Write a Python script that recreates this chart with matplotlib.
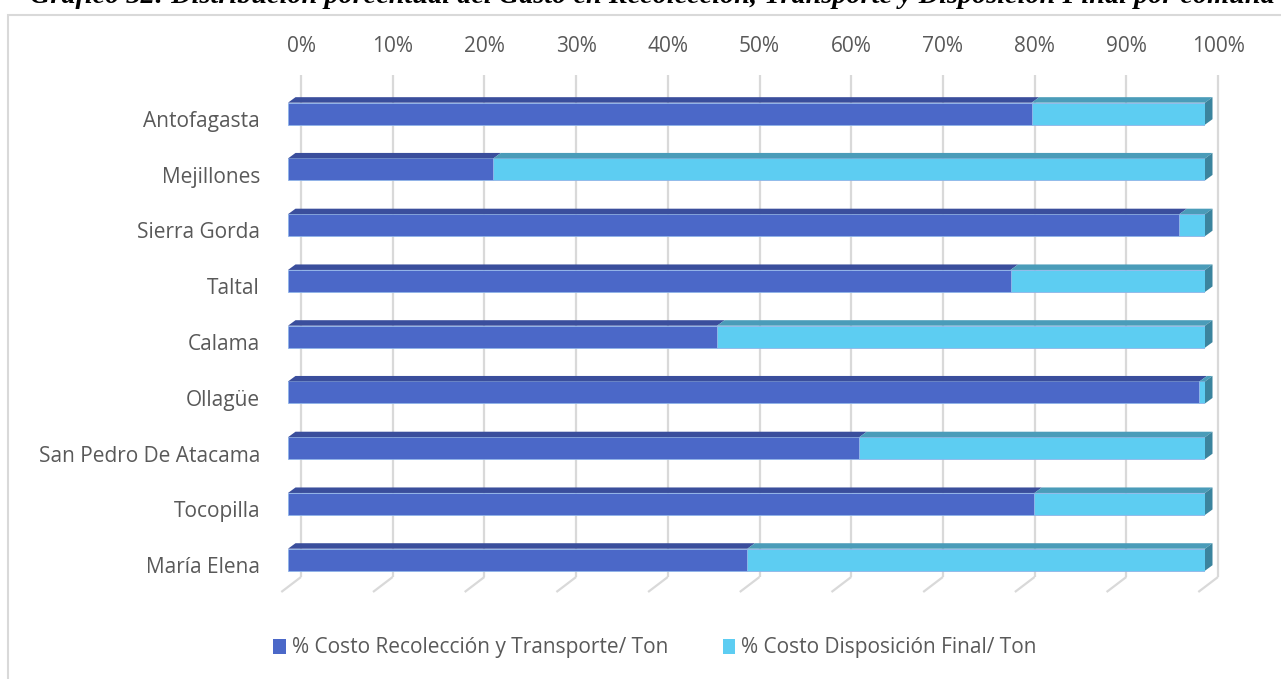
import numpy as np
import matplotlib
matplotlib.use('Agg')
import matplotlib.pyplot as plt
from matplotlib.patches import Polygon, Rectangle, Patch

# data (share of cost per ton, fraction of 1)
comunas = ['Antofagasta', 'Mejillones', 'Sierra Gorda', 'Taltal', 'Calama',
           'Ollagüe', 'San Pedro De Atacama', 'Tocopilla', 'María Elena']
recoleccion = [0.811, 0.224, 0.972, 0.788, 0.468, 0.994, 0.623, 0.814, 0.501]
disposicion = [1 - v for v in recoleccion]
series_names = ['% Costo Recolección y Transporte/ Ton',
                '% Costo Disposición Final/ Ton']
ticks = np.arange(0, 1.01, 0.1)
tick_labels = [f'{int(round(t * 100))}%' for t in ticks]

# styling
W, H = 1281, 679
front_cols = ['#4B68C8', '#5DCDF2']
top_cols = ['#3A4E9C', '#4A9CB9']
side_cols = ['#33458A', '#3B849E']
grid_col = '#D9D9D9'
text_col = '#595959'
fs = 15
plt.rcParams['font.family'] = ['Open Sans', 'DejaVu Sans']

fig = plt.figure(figsize=(W / 100, H / 100), dpi=100)

# outer chart frame
fig.patches.append(Rectangle((8 / W, -0.1), 1.2, (H - 15) / H + 0.1,
                             transform=fig.transFigure, fill=False,
                             edgecolor=grid_col, linewidth=1.5))

# cut-off caption above the chart
fig.text(30 / W, 1 - 3 / H,
         'Gráfico 32: Distribución porcentual del Gasto en Recolección, '
         'Transporte y Disposición Final por comuna',
         family='Liberation Serif', fontweight='bold', fontstyle='italic',
         fontsize=20.3, va='baseline', ha='left', color='#000000')

# front plane of the bars: 0% at x=288px, 100% at x=1205px
ax_top, ax_bot = 85.8, 587.6
ax = fig.add_axes([288 / W, 1 - ax_bot / H, 917 / W, (ax_bot - ax_top) / H])
ax.set_xlim(0, 1)
ax.set_ylim(len(comunas) - 0.5, -0.5)
ax.set_axis_off()

px = 1 / 917                       # data units per pixel, x
py = (len(comunas)) / (ax_bot - ax_top)  # data units per pixel, y
h = 22 * py                        # bar front height
ddx, ddy = 7.5 * px, -5.5 * py     # bar depth

# back wall gridlines + floor
bx = 13 * px
g_top = -0.5 - (ax_top - 75) * py
g_bot = len(comunas) - 0.5 - (ax_bot - 577) * py
for t in ticks:
    x = t + bx
    ax.plot([x, x], [g_top, g_bot], color=grid_col, lw=1.6, zorder=1,
            clip_on=False, solid_capstyle='butt')
    ax.plot([x, x - 19.7 * px], [g_bot, g_bot + 15 * py], color=grid_col,
            lw=1.6, zorder=1, clip_on=False, solid_capstyle='butt')

for t, lab in zip(ticks, tick_labels):
    ax.text(t + bx, -0.5 - (ax_top - 47) * py, lab, ha='center', va='center',
            fontsize=fs, color=text_col)

# bars
y = np.arange(len(comunas))
lefts = np.zeros(len(comunas))
for k, vals in enumerate([recoleccion, disposicion]):
    vals = np.array(vals)
    ax.barh(y, vals, left=lefts, height=h, color=front_cols[k],
            edgecolor='#8FB4E8', linewidth=0.6, zorder=3)
    for i in range(len(comunas)):
        l, w = lefts[i], vals[i]
        yt = y[i] - h / 2
        ax.add_patch(Polygon([(l, yt), (l + w, yt), (l + w + ddx, yt + ddy),
                              (l + ddx, yt + ddy)], closed=True,
                             facecolor=top_cols[k], edgecolor='none',
                             zorder=3, clip_on=False))
        if k == 1:
            r = l + w
            ax.add_patch(Polygon([(r, yt), (r, yt + h), (r + ddx, yt + h + ddy),
                                  (r + ddx, yt + ddy)], closed=True,
                                 facecolor=side_cols[k], edgecolor='none',
                                 zorder=3, clip_on=False))
    lefts = lefts + vals

# category labels
for i, name in enumerate(comunas):
    ax.text(-28 * px, y[i] + 13.3 * py, name, ha='right', va='baseline',
            fontsize=fs, color=text_col, clip_on=False)

handles = [Patch(facecolor=c, edgecolor='none') for c in front_cols]
fig.legend(handles, series_names, loc='center', ncol=2,
           bbox_to_anchor=(655 / W, 1 - 648 / H), frameon=False,
           fontsize=fs, labelcolor=text_col, handlelength=0.6,
           handleheight=0.75, handletextpad=0.3, columnspacing=2.6)

fig.savefig('out.png', dpi=100)
